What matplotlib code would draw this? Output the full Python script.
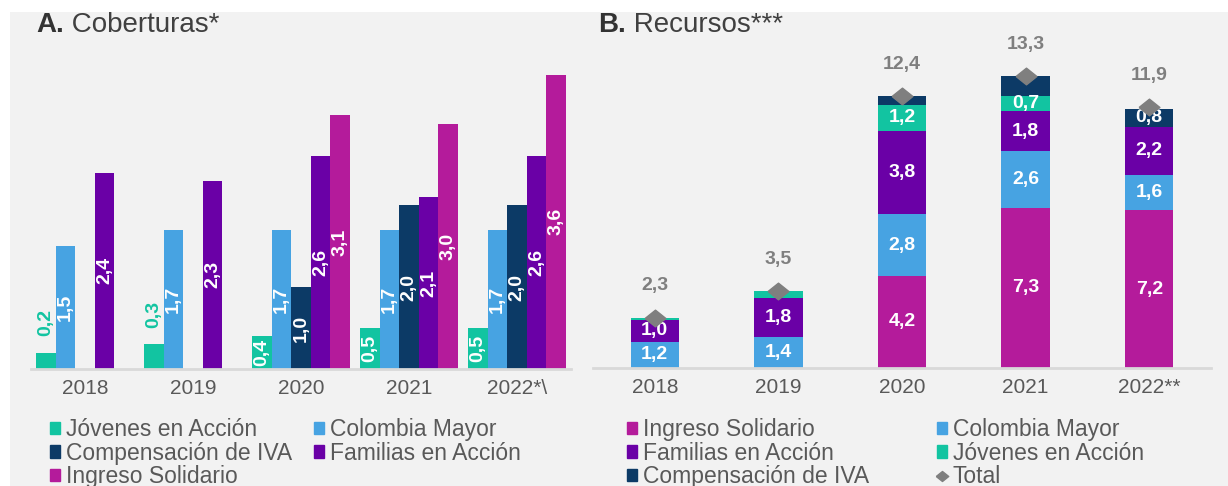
import matplotlib
matplotlib.use('Agg')
import matplotlib.pyplot as plt
from matplotlib.patches import Rectangle
from matplotlib.lines import Line2D
import numpy as np

plt.rcParams['font.family'] = ['Liberation Sans', 'DejaVu Sans']

# datos
anios_a = ['2018', '2019', '2020', '2021', '2022*\\']
anios_b = ['2018', '2019', '2020', '2021', '2022**']

# A. Coberturas (millones de hogares)
cob_jovenes = [0.2, 0.3, 0.4, 0.5, 0.5]
cob_colombia_mayor = [1.5, 1.7, 1.7, 1.7, 1.7]
cob_iva = [np.nan, np.nan, 1.0, 2.0, 2.0]
cob_familias = [2.4, 2.3, 2.6, 2.1, 2.6]
cob_ingreso = [np.nan, np.nan, 3.1, 3.0, 3.6]

# B. Recursos (billones)
rec_ingreso = [0.0, 0.0, 4.2, 7.3, 7.2]
rec_colombia_mayor = [1.2, 1.4, 2.8, 2.6, 1.6]
rec_familias = [1.0, 1.8, 3.8, 1.8, 2.2]
rec_jovenes = [0.1, 0.3, 1.2, 0.7, 0.0]
rec_iva = [0.0, 0.0, 0.4, 0.9, 0.8]
rec_total = [2.3, 3.5, 12.4, 13.3, 11.9]

# colores
c_jov = '#12c4a1'
c_cm = '#47a3e2'
c_iva = '#0c3a66'
c_fam = '#6a00a6'
c_ing = '#b41b9b'
c_tot = '#7f7f7f'
c_txt = '#595959'

W, H = 1228, 486
fig = plt.figure(figsize=(W / 100, H / 100), dpi=100)
fig.patch.set_facecolor('white')
fig.patches.append(Rectangle((10 / W, 0), 1, 1 - 12 / H, transform=fig.transFigure,
                             facecolor='#f2f2f2', edgecolor='none', zorder=-10))


def fmt(v):
    return f'{v:.1f}'.replace('.', ',')


def estilo_ejes(ax, labels):
    ax.set_facecolor('none')
    for s in ['left', 'right', 'top']:
        ax.spines[s].set_visible(False)
    ax.spines['bottom'].set_color('#d9d9d9')
    ax.spines['bottom'].set_linewidth(2)
    ax.set_yticks([])
    ax.set_xticks(range(len(labels)))
    ax.set_xticklabels(labels, fontsize=15, color=c_txt)
    ax.tick_params(axis='x', length=0, pad=7)
    ax.set_xlim(-0.5, len(labels) - 0.5)


# ---------- A. Coberturas ----------
ax1 = fig.add_axes([31 / W, (H - 369) / H, 540 / W, 319 / H])
x = np.arange(len(anios_a))
bw = 0.18
series_a = [(cob_jovenes, c_jov, 'Jóvenes en Acción'),
            (cob_colombia_mayor, c_cm, 'Colombia Mayor'),
            (cob_iva, c_iva, 'Compensación de IVA'),
            (cob_familias, c_fam, 'Familias en Acción'),
            (cob_ingreso, c_ing, 'Ingreso Solidario')]
handles_a = []
for k, (vals, col, nombre) in enumerate(series_a):
    xs = x + (k - 2) * bw
    v = np.array(vals, dtype=float)
    ok = ~np.isnan(v)
    ax1.bar(xs[ok], v[ok], width=bw, color=col, linewidth=0)
    handles_a.append(Rectangle((0, 0), 1, 1, color=col, label=nombre))
    for xi, vi in zip(xs[ok], v[ok]):
        if vi < 0.35:
            ax1.annotate(fmt(vi), (xi, vi), xytext=(0, 12), textcoords='offset points',
                         rotation=90, ha='center', va='bottom', color=col,
                         fontsize=14, fontweight='bold')
        else:
            ax1.text(xi, vi / 2, fmt(vi), rotation=90, ha='center', va='center',
                     color='white', fontsize=14, fontweight='bold')
ax1.set_ylim(0, 3.9)
estilo_ejes(ax1, anios_a)

# ---------- B. Recursos ----------
ax2 = fig.add_axes([593 / W, (H - 368) / H, 618 / W, 318 / H])
x = np.arange(len(anios_b))
bw2 = 0.39
series_b = [(rec_ingreso, c_ing, 'Ingreso Solidario'),
            (rec_colombia_mayor, c_cm, 'Colombia Mayor'),
            (rec_familias, c_fam, 'Familias en Acción'),
            (rec_jovenes, c_jov, 'Jóvenes en Acción'),
            (rec_iva, c_iva, 'Compensación de IVA')]
# segmentos sin etiqueta (serie, año)
sin_etiqueta = [(3, 0), (3, 1), (4, 2), (4, 3)]
base = np.zeros(len(anios_b))
handles_b = []
for k, (vals, col, nombre) in enumerate(series_b):
    v = np.array(vals, dtype=float)
    ax2.bar(x, v, width=bw2, bottom=base, color=col, linewidth=0)
    handles_b.append(Rectangle((0, 0), 1, 1, color=col, label=nombre))
    for i in range(len(v)):
        if v[i] > 0 and (k, i) not in sin_etiqueta:
            ax2.text(x[i], base[i] + v[i] / 2, fmt(v[i]), ha='center', va='center',
                     color='white', fontsize=14, fontweight='bold')
    base = base + v

diamante = [(-1, 0), (0, 0.8), (1, 0), (0, -0.8), (-1, 0)]
ax2.plot(x, rec_total, linestyle='none', marker=diamante, markersize=15,
         color=c_tot, zorder=5)
for xi, t in zip(x, rec_total):
    ax2.annotate(fmt(t), (xi, t), xytext=(0, 23), textcoords='offset points',
                 ha='center', va='center', color=c_tot, fontsize=14, fontweight='bold')
handles_b.append(Line2D([], [], linestyle='none', marker=diamante, markersize=9,
                        color=c_tot, label='Total'))
ax2.set_ylim(0, 14.5)
estilo_ejes(ax2, anios_b)

# ---------- leyendas ----------
orden_a = [handles_a[i] for i in [0, 2, 4, 1, 3]]
fig.legend(handles=orden_a, loc='upper left', bbox_to_anchor=(50 / W, 1 - 418 / H),
           ncol=2, frameon=False, fontsize=16.5, handlelength=0.45, handleheight=0.45,
           handletextpad=0.25, labelspacing=0.03, columnspacing=0.95,
           borderpad=0, borderaxespad=0, labelcolor=c_txt)
orden_b = [handles_b[i] for i in [0, 2, 4, 1, 3, 5]]
fig.legend(handles=orden_b, loc='upper left', bbox_to_anchor=(627 / W, 1 - 418 / H),
           ncol=2, frameon=False, fontsize=16.5, handlelength=0.45, handleheight=0.45,
           handletextpad=0.25, labelspacing=0.03, columnspacing=2.95,
           borderpad=0, borderaxespad=0, labelcolor=c_txt)

# ---------- titulos ----------
fig.canvas.draw()
r = fig.canvas.get_renderer()
for xt, letra, resto in [(36, 'A.', ' Coberturas*'), (598, 'B.', ' Recursos***')]:
    t1 = fig.text(xt / W, 1 - 25 / H, letra, fontsize=20, fontweight='bold',
                  color='#333333', va='center', ha='left')
    bb = t1.get_window_extent(renderer=r)
    fig.text(bb.x1 / W, 1 - 25 / H, resto, fontsize=20, color='#404040',
             va='center', ha='left')

fig.savefig('out.png', dpi=100)
